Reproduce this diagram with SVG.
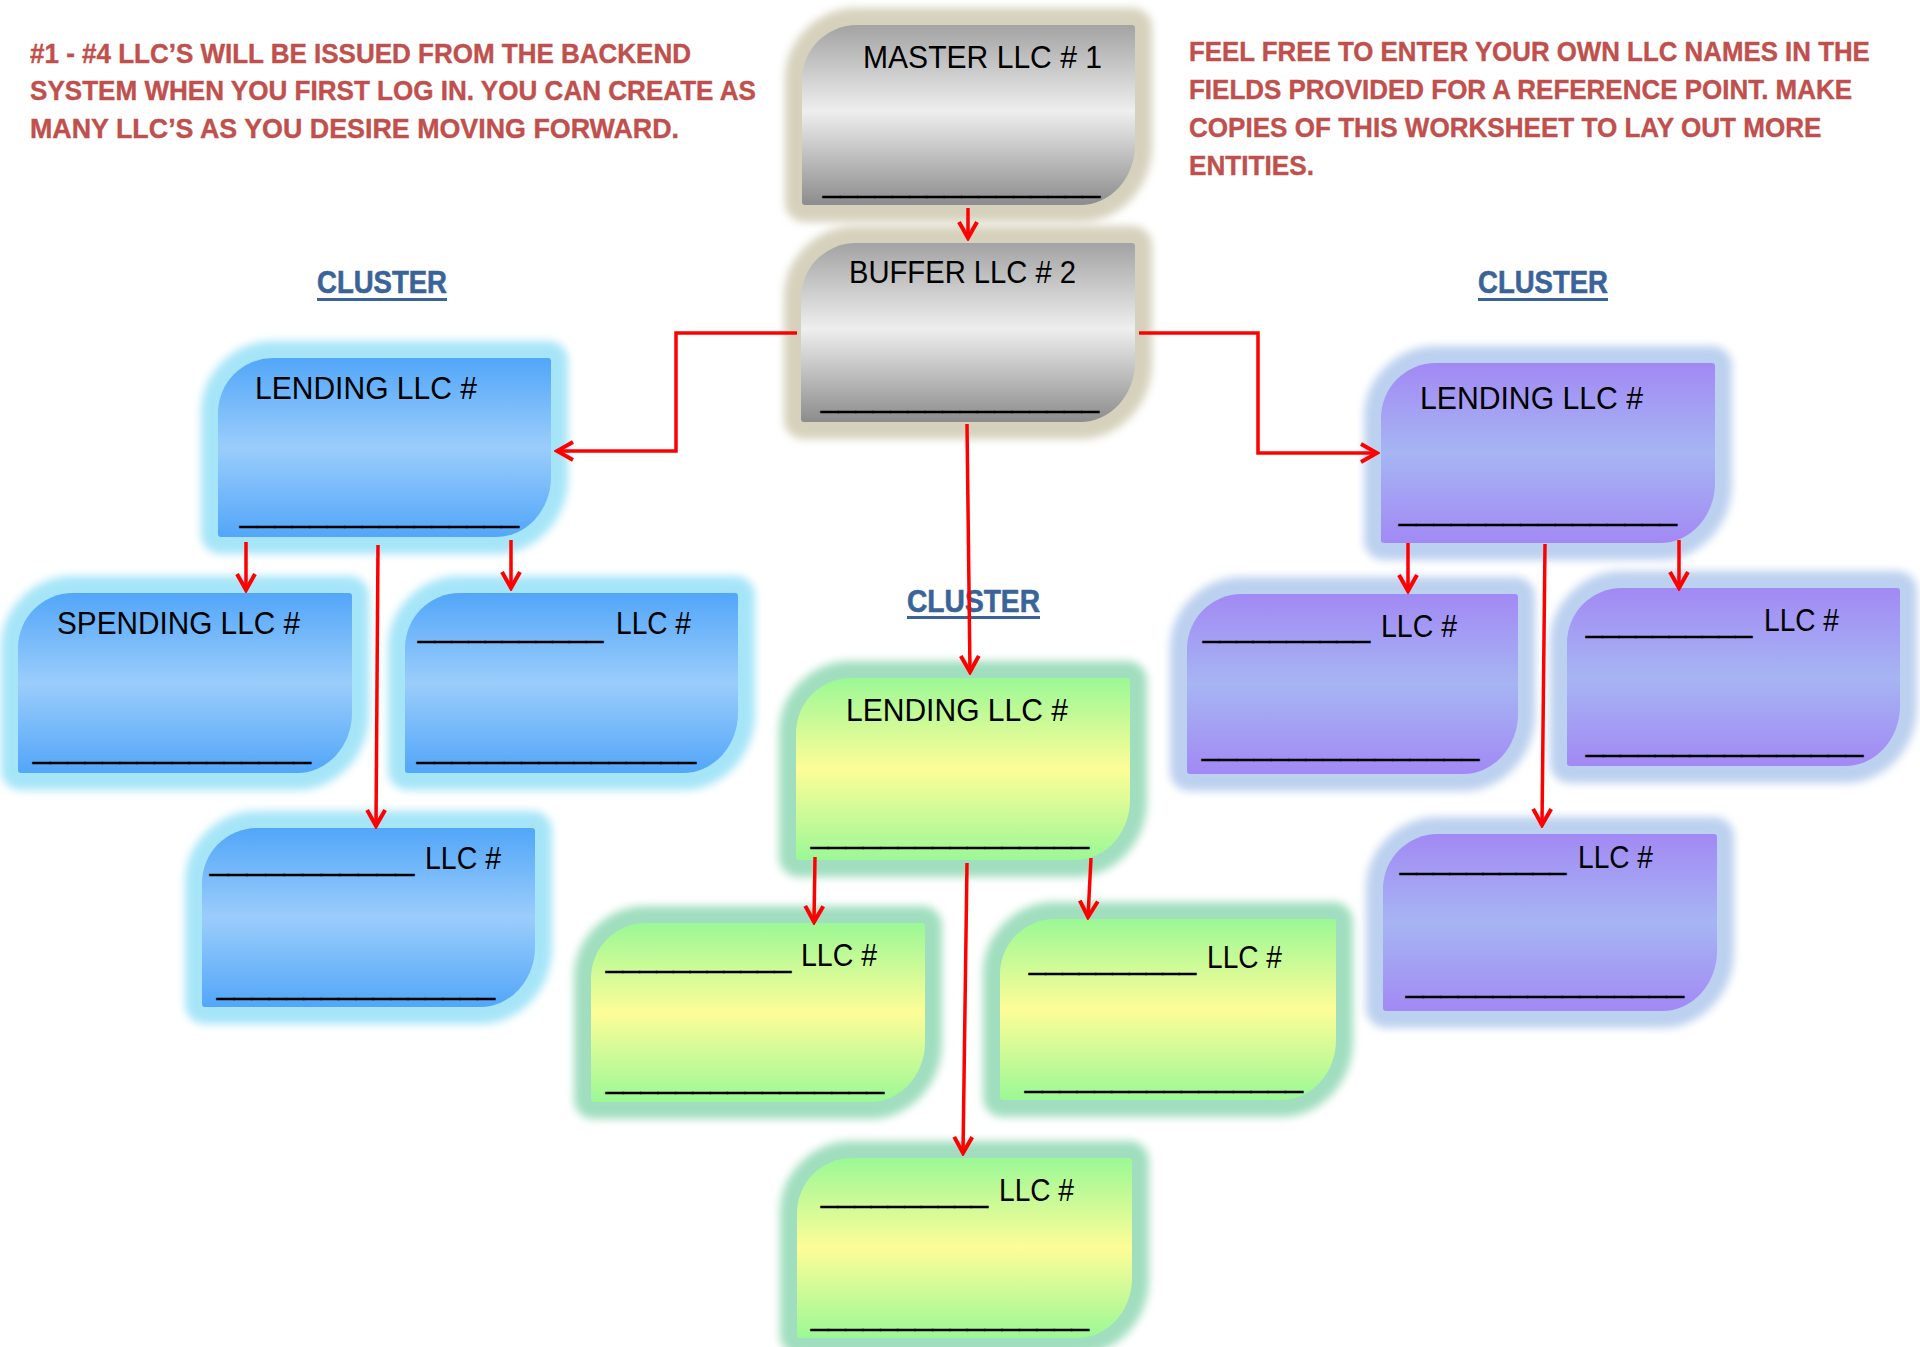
<svg xmlns="http://www.w3.org/2000/svg" width="1920" height="1347" viewBox="0 0 1920 1347">
<style>
.note{font-family:"Liberation Sans",Arial,sans-serif;font-weight:bold;font-size:28px;fill:#C0504D;stroke:#C0504D;stroke-width:0.4}
.cl{font-family:"Liberation Sans",Arial,sans-serif;font-weight:bold;font-size:31px;fill:#3A6499;stroke:#3A6499;stroke-width:0.6}
.lb{font-family:"Liberation Sans",Arial,sans-serif;font-size:31px;fill:#000}
.us{font-family:"Liberation Sans",Arial,sans-serif;font-size:31px;fill:#000;stroke:#000;stroke-width:0.7}
.glow{filter:url(#blur);stroke-width:34;stroke-linejoin:round}
.gray .glow{fill:#D5D1BC;stroke:#D5D1BC}
.blue .glow{fill:#A6E5F8;stroke:#A6E5F8}
.purple .glow{fill:#BCD0EF;stroke:#BCD0EF}
.green .glow{fill:#A0DEBF;stroke:#A0DEBF}
.gray .body{fill:url(#gGray)}
.blue .body{fill:url(#gBlue)}
.purple .body{fill:url(#gPurple)}
.green .body{fill:url(#gGreen)}
.conn path{fill:none;stroke:#FF0000;stroke-width:3.5;marker-end:url(#arr)}
</style>
<defs>
<filter id="blur" x="-20%" y="-20%" width="140%" height="140%"><feGaussianBlur stdDeviation="4.5"/></filter>
<linearGradient id="gGray" x1="0" y1="0" x2="0" y2="1"><stop offset="0" stop-color="#A3A3A3"/><stop offset="0.48" stop-color="#EEEEEE"/><stop offset="1" stop-color="#8C8C8C"/></linearGradient>
<linearGradient id="gBlue" x1="0" y1="0" x2="0" y2="1"><stop offset="0" stop-color="#52A6F9"/><stop offset="0.5" stop-color="#9BCDFB"/><stop offset="1" stop-color="#52A6F9"/></linearGradient>
<linearGradient id="gPurple" x1="0" y1="0" x2="0" y2="1"><stop offset="0" stop-color="#A289F4"/><stop offset="0.5" stop-color="#A6B5F3"/><stop offset="1" stop-color="#A289F4"/></linearGradient>
<linearGradient id="gGreen" x1="0" y1="0" x2="0" y2="1"><stop offset="0" stop-color="#9BF896"/><stop offset="0.5" stop-color="#FDFD98"/><stop offset="1" stop-color="#9BF896"/></linearGradient>
<marker id="arr" markerUnits="userSpaceOnUse" markerWidth="22" markerHeight="22" viewBox="0 0 22 22" refX="19" refY="11" orient="auto"><path d="M3,2 L19,11 L3,20" fill="none" stroke="#FF0000" stroke-width="4"/></marker>
</defs>

<g id="notes">
<text class="note" x="30" y="63" textLength="661" lengthAdjust="spacingAndGlyphs">#1 - #4 LLC’S WILL BE ISSUED FROM THE BACKEND</text>
<text class="note" x="30" y="100" textLength="726" lengthAdjust="spacingAndGlyphs">SYSTEM WHEN YOU FIRST LOG IN. YOU CAN CREATE AS</text>
<text class="note" x="30" y="138" textLength="649" lengthAdjust="spacingAndGlyphs">MANY LLC’S AS YOU DESIRE MOVING FORWARD.</text>
<g transform="translate(1189,0) scale(0.85,1)">
<text class="note" x="0" y="61" textLength="801" lengthAdjust="spacingAndGlyphs">FEEL FREE TO ENTER YOUR OWN LLC NAMES IN THE</text>
<text class="note" x="0" y="99" textLength="780" lengthAdjust="spacingAndGlyphs">FIELDS PROVIDED FOR A REFERENCE POINT. MAKE</text>
<text class="note" x="0" y="137" textLength="744" lengthAdjust="spacingAndGlyphs">COPIES OF THIS WORKSHEET TO LAY OUT MORE</text>
<text class="note" x="0" y="175" textLength="147" lengthAdjust="spacingAndGlyphs">ENTITIES.</text>
</g>
</g>

<g id="cluster-labels">
<text class="cl" x="317" y="293" textLength="130" lengthAdjust="spacingAndGlyphs">CLUSTER</text>
<rect x="317" y="298" width="130" height="3" fill="#3A6499"/>
<text class="cl" x="907" y="612" textLength="133" lengthAdjust="spacingAndGlyphs">CLUSTER</text>
<rect x="907" y="616" width="133" height="3" fill="#3A6499"/>
<text class="cl" x="1478" y="293" textLength="130" lengthAdjust="spacingAndGlyphs">CLUSTER</text>
<rect x="1478" y="298" width="130" height="3" fill="#3A6499"/>
</g>

<g id="master" class="gray">
<path class="glow" d="M802,80 A55,55 0 0 1 857,25 L1132,25 Q1135,25 1135,28 L1135,145 A55,60 0 0 1 1080,205 L805,205 Q802,205 802,202 Z"/>
<path class="body" d="M802,80 A55,55 0 0 1 857,25 L1132,25 Q1135,25 1135,28 L1135,145 A55,60 0 0 1 1080,205 L805,205 Q802,205 802,202 Z"/>
<text class="lb" x="863" y="68" textLength="239" lengthAdjust="spacingAndGlyphs">MASTER LLC # 1</text>
<text class="us" x="823" y="192" textLength="277" lengthAdjust="spacingAndGlyphs">________________</text>
</g>

<g id="buffer" class="gray">
<path class="glow" d="M801,298 A55,55 0 0 1 856,243 L1132,243 Q1135,243 1135,246 L1135,362 A55,60 0 0 1 1080,422 L804,422 Q801,422 801,419 Z"/>
<path class="body" d="M801,298 A55,55 0 0 1 856,243 L1132,243 Q1135,243 1135,246 L1135,362 A55,60 0 0 1 1080,422 L804,422 Q801,422 801,419 Z"/>
<text class="lb" x="849" y="283" textLength="227" lengthAdjust="spacingAndGlyphs">BUFFER LLC # 2</text>
<text class="us" x="821" y="407" textLength="278" lengthAdjust="spacingAndGlyphs">________________</text>
</g>

<g id="blue-lending" class="blue">
<path class="glow" d="M218,413 A55,55 0 0 1 273,358 L548,358 Q551,358 551,361 L551,477 A55,60 0 0 1 496,537 L221,537 Q218,537 218,534 Z"/>
<path class="body" d="M218,413 A55,55 0 0 1 273,358 L548,358 Q551,358 551,361 L551,477 A55,60 0 0 1 496,537 L221,537 Q218,537 218,534 Z"/>
<text class="lb" x="255" y="399" textLength="222" lengthAdjust="spacingAndGlyphs">LENDING LLC #</text>
<text class="us" x="240" y="522" textLength="279" lengthAdjust="spacingAndGlyphs">________________</text>
</g>

<g id="blue-spending" class="blue">
<path class="glow" d="M18,648 A55,55 0 0 1 73,593 L349,593 Q352,593 352,596 L352,713 A55,60 0 0 1 297,773 L21,773 Q18,773 18,770 Z"/>
<path class="body" d="M18,648 A55,55 0 0 1 73,593 L349,593 Q352,593 352,596 L352,713 A55,60 0 0 1 297,773 L21,773 Q18,773 18,770 Z"/>
<text class="lb" x="57" y="634" textLength="243" lengthAdjust="spacingAndGlyphs">SPENDING LLC #</text>
<text class="us" x="33" y="758" textLength="278" lengthAdjust="spacingAndGlyphs">________________</text>
</g>

<g id="blue-llc-a" class="blue">
<path class="glow" d="M405,648 A55,55 0 0 1 460,593 L735,593 Q738,593 738,596 L738,713 A55,60 0 0 1 683,773 L408,773 Q405,773 405,770 Z"/>
<path class="body" d="M405,648 A55,55 0 0 1 460,593 L735,593 Q738,593 738,596 L738,713 A55,60 0 0 1 683,773 L408,773 Q405,773 405,770 Z"/>
<text class="us" x="418" y="637" textLength="185" lengthAdjust="spacingAndGlyphs">___________</text>
<text class="lb" x="616" y="634" textLength="75" lengthAdjust="spacingAndGlyphs">LLC #</text>
<text class="us" x="417" y="758" textLength="279" lengthAdjust="spacingAndGlyphs">________________</text>
</g>

<g id="blue-llc-b" class="blue">
<path class="glow" d="M202,883 A55,55 0 0 1 257,828 L532,828 Q535,828 535,831 L535,947 A55,60 0 0 1 480,1007 L205,1007 Q202,1007 202,1004 Z"/>
<path class="body" d="M202,883 A55,55 0 0 1 257,828 L532,828 Q535,828 535,831 L535,947 A55,60 0 0 1 480,1007 L205,1007 Q202,1007 202,1004 Z"/>
<text class="us" x="210" y="870" textLength="204" lengthAdjust="spacingAndGlyphs">___________</text>
<text class="lb" x="425" y="869" textLength="76" lengthAdjust="spacingAndGlyphs">LLC #</text>
<text class="us" x="217" y="994" textLength="278" lengthAdjust="spacingAndGlyphs">________________</text>
</g>

<g id="purple-lending" class="purple">
<path class="glow" d="M1381,418 A55,55 0 0 1 1436,363 L1712,363 Q1715,363 1715,366 L1715,483 A55,60 0 0 1 1660,543 L1384,543 Q1381,543 1381,540 Z"/>
<path class="body" d="M1381,418 A55,55 0 0 1 1436,363 L1712,363 Q1715,363 1715,366 L1715,483 A55,60 0 0 1 1660,543 L1384,543 Q1381,543 1381,540 Z"/>
<text class="lb" x="1420" y="409" textLength="223" lengthAdjust="spacingAndGlyphs">LENDING LLC #</text>
<text class="us" x="1399" y="520" textLength="278" lengthAdjust="spacingAndGlyphs">________________</text>
</g>

<g id="purple-llc-a" class="purple">
<path class="glow" d="M1187,649 A55,55 0 0 1 1242,594 L1515,594 Q1518,594 1518,597 L1518,714 A55,60 0 0 1 1463,774 L1190,774 Q1187,774 1187,771 Z"/>
<path class="body" d="M1187,649 A55,55 0 0 1 1242,594 L1515,594 Q1518,594 1518,597 L1518,714 A55,60 0 0 1 1463,774 L1190,774 Q1187,774 1187,771 Z"/>
<text class="us" x="1203" y="637" textLength="167" lengthAdjust="spacingAndGlyphs">__________</text>
<text class="lb" x="1381" y="637" textLength="76" lengthAdjust="spacingAndGlyphs">LLC #</text>
<text class="us" x="1202" y="755" textLength="277" lengthAdjust="spacingAndGlyphs">________________</text>
</g>

<g id="purple-llc-b" class="purple">
<path class="glow" d="M1567,643 A55,55 0 0 1 1622,588 L1897,588 Q1900,588 1900,591 L1900,706 A55,60 0 0 1 1845,766 L1570,766 Q1567,766 1567,763 Z"/>
<path class="body" d="M1567,643 A55,55 0 0 1 1622,588 L1897,588 Q1900,588 1900,591 L1900,706 A55,60 0 0 1 1845,766 L1570,766 Q1567,766 1567,763 Z"/>
<text class="us" x="1586" y="632" textLength="166" lengthAdjust="spacingAndGlyphs">__________</text>
<text class="lb" x="1764" y="631" textLength="75" lengthAdjust="spacingAndGlyphs">LLC #</text>
<text class="us" x="1586" y="751" textLength="277" lengthAdjust="spacingAndGlyphs">________________</text>
</g>

<g id="purple-llc-c" class="purple">
<path class="glow" d="M1383,889 A55,55 0 0 1 1438,834 L1714,834 Q1717,834 1717,837 L1717,951 A55,60 0 0 1 1662,1011 L1386,1011 Q1383,1011 1383,1008 Z"/>
<path class="body" d="M1383,889 A55,55 0 0 1 1438,834 L1714,834 Q1717,834 1717,837 L1717,951 A55,60 0 0 1 1662,1011 L1386,1011 Q1383,1011 1383,1008 Z"/>
<text class="us" x="1400" y="869" textLength="166" lengthAdjust="spacingAndGlyphs">__________</text>
<text class="lb" x="1578" y="868" textLength="75" lengthAdjust="spacingAndGlyphs">LLC #</text>
<text class="us" x="1406" y="992" textLength="278" lengthAdjust="spacingAndGlyphs">________________</text>
</g>

<g id="green-lending" class="green">
<path class="glow" d="M796,733 A55,55 0 0 1 851,678 L1127,678 Q1130,678 1130,681 L1130,800 A55,60 0 0 1 1075,860 L799,860 Q796,860 796,857 Z"/>
<path class="body" d="M796,733 A55,55 0 0 1 851,678 L1127,678 Q1130,678 1130,681 L1130,800 A55,60 0 0 1 1075,860 L799,860 Q796,860 796,857 Z"/>
<text class="lb" x="846" y="721" textLength="222" lengthAdjust="spacingAndGlyphs">LENDING LLC #</text>
<text class="us" x="811" y="843" textLength="278" lengthAdjust="spacingAndGlyphs">________________</text>
</g>

<g id="green-llc-a" class="green">
<path class="glow" d="M591,978 A55,55 0 0 1 646,923 L922,923 Q925,923 925,926 L925,1042 A55,60 0 0 1 870,1102 L594,1102 Q591,1102 591,1099 Z"/>
<path class="body" d="M591,978 A55,55 0 0 1 646,923 L922,923 Q925,923 925,926 L925,1042 A55,60 0 0 1 870,1102 L594,1102 Q591,1102 591,1099 Z"/>
<text class="us" x="606" y="967" textLength="185" lengthAdjust="spacingAndGlyphs">___________</text>
<text class="lb" x="801" y="966" textLength="76" lengthAdjust="spacingAndGlyphs">LLC #</text>
<text class="us" x="606" y="1088" textLength="278" lengthAdjust="spacingAndGlyphs">________________</text>
</g>

<g id="green-llc-b" class="green">
<path class="glow" d="M1000,974 A55,55 0 0 1 1055,919 L1333,919 Q1336,919 1336,922 L1336,1040 A55,60 0 0 1 1281,1100 L1003,1100 Q1000,1100 1000,1097 Z"/>
<path class="body" d="M1000,974 A55,55 0 0 1 1055,919 L1333,919 Q1336,919 1336,922 L1336,1040 A55,60 0 0 1 1281,1100 L1003,1100 Q1000,1100 1000,1097 Z"/>
<text class="us" x="1029" y="969" textLength="167" lengthAdjust="spacingAndGlyphs">__________</text>
<text class="lb" x="1207" y="968" textLength="75" lengthAdjust="spacingAndGlyphs">LLC #</text>
<text class="us" x="1025" y="1087" textLength="278" lengthAdjust="spacingAndGlyphs">________________</text>
</g>

<g id="green-llc-c" class="green">
<path class="glow" d="M797,1213 A55,55 0 0 1 852,1158 L1129,1158 Q1132,1158 1132,1161 L1132,1278 A55,60 0 0 1 1077,1338 L800,1338 Q797,1338 797,1335 Z"/>
<path class="body" d="M797,1213 A55,55 0 0 1 852,1158 L1129,1158 Q1132,1158 1132,1161 L1132,1278 A55,60 0 0 1 1077,1338 L800,1338 Q797,1338 797,1335 Z"/>
<text class="us" x="821" y="1202" textLength="167" lengthAdjust="spacingAndGlyphs">__________</text>
<text class="lb" x="999" y="1201" textLength="75" lengthAdjust="spacingAndGlyphs">LLC #</text>
<text class="us" x="811" y="1325" textLength="278" lengthAdjust="spacingAndGlyphs">________________</text>
</g>

<g id="connectors" class="conn">
<path d="M968,208 L968,238"/>
<path d="M797,333 H676 V451 H557"/>
<path d="M1139,333 H1258 V453 H1377"/>
<path d="M967,424 L970,672"/>
<path d="M246,542 L246,590"/>
<path d="M511,540 L511,588"/>
<path d="M378,545 L376,826"/>
<path d="M1408,543 L1408,591"/>
<path d="M1679,540 L1679,588"/>
<path d="M1545,544 L1542,825"/>
<path d="M815,857 L814,922"/>
<path d="M1091,858 L1088,917"/>
<path d="M967,863 L963,1153"/>
</g>
</svg>
